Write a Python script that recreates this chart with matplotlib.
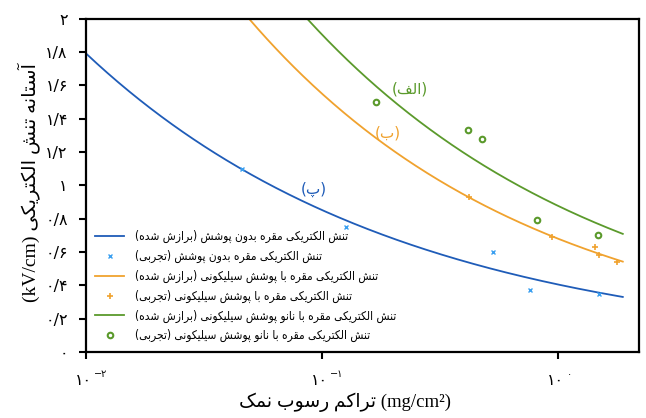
import numpy as np
import matplotlib
matplotlib.use("Agg")
import matplotlib.pyplot as plt
from matplotlib.lines import Line2D

# ---------------------------------------------------------------------------
# Minimal Persian shaping: contextual presentation forms + visual (RTL) order
# ---------------------------------------------------------------------------
FORMS = {  # isolated, final, initial, medial
    'ا': (0xFE8D, 0xFE8E, None, None), 'آ': (0xFE81, 0xFE82, None, None),
    'د': (0xFEA9, 0xFEAA, None, None), 'ذ': (0xFEAB, 0xFEAC, None, None),
    'ر': (0xFEAD, 0xFEAE, None, None), 'ز': (0xFEAF, 0xFEB0, None, None),
    'ژ': (0xFB8A, 0xFB8B, None, None), 'و': (0xFEED, 0xFEEE, None, None),
    'ب': (0xFE8F, 0xFE90, 0xFE91, 0xFE92), 'پ': (0xFB56, 0xFB57, 0xFB58, 0xFB59),
    'ت': (0xFE95, 0xFE96, 0xFE97, 0xFE98), 'ث': (0xFE99, 0xFE9A, 0xFE9B, 0xFE9C),
    'ج': (0xFE9D, 0xFE9E, 0xFE9F, 0xFEA0), 'چ': (0xFB7A, 0xFB7B, 0xFB7C, 0xFB7D),
    'ح': (0xFEA1, 0xFEA2, 0xFEA3, 0xFEA4), 'خ': (0xFEA5, 0xFEA6, 0xFEA7, 0xFEA8),
    'س': (0xFEB1, 0xFEB2, 0xFEB3, 0xFEB4), 'ش': (0xFEB5, 0xFEB6, 0xFEB7, 0xFEB8),
    'ص': (0xFEB9, 0xFEBA, 0xFEBB, 0xFEBC), 'ف': (0xFED1, 0xFED2, 0xFED3, 0xFED4),
    'ق': (0xFED5, 0xFED6, 0xFED7, 0xFED8), 'ک': (0xFB8E, 0xFB8F, 0xFB90, 0xFB91),
    'گ': (0xFB92, 0xFB93, 0xFB94, 0xFB95), 'ل': (0xFEDD, 0xFEDE, 0xFEDF, 0xFEE0),
    'م': (0xFEE1, 0xFEE2, 0xFEE3, 0xFEE4), 'ن': (0xFEE5, 0xFEE6, 0xFEE7, 0xFEE8),
    'ه': (0xFEE9, 0xFEEA, 0xFEEB, 0xFEEC), 'ی': (0xFBFC, 0xFBFD, 0xFBFE, 0xFBFF),
}
MIRROR = {'(': ')', ')': '('}


def _joins_next(ch):
    return ch in FORMS and FORMS[ch][2] is not None


def fa(text):
    out = []
    n = len(text)
    for i, ch in enumerate(text):
        if ch not in FORMS:
            out.append(ch)
            continue
        prev_j = i > 0 and _joins_next(text[i - 1])
        next_j = i + 1 < n and text[i + 1] in FORMS and _joins_next(ch)
        iso, fin, ini, med = FORMS[ch]
        if prev_j and next_j:
            cp = med
        elif prev_j:
            cp = fin
        elif next_j:
            cp = ini
        else:
            cp = iso
        out.append(chr(cp))
    # reverse into visual order, keeping runs of Latin characters intact
    runs, buf = [], ''
    for ch in out:
        if ch.isascii() and ch not in ' ()' or ch in '²':
            buf += ch
        else:
            if buf:
                runs.append(buf)
                buf = ''
            runs.append(MIRROR.get(ch, ch))
    if buf:
        runs.append(buf)
    return ''.join(reversed(runs))


FA_DIGITS = str.maketrans('0123456789.-', '۰۱۲۳۴۵۶۷۸۹/−')

# ---------------------------------------------------------------------------
# Data
# ---------------------------------------------------------------------------
# Measured flashover stress (kV/cm) vs. equivalent salt deposit (mg/cm^2)
bare_esdd = [0.046, 0.126, 0.528, 0.764, 1.49]
bare_stress = [1.10, 0.75, 0.60, 0.37, 0.35]

rtv_esdd = [0.42, 0.94, 1.44, 1.49, 1.77]
rtv_stress = [0.93, 0.69, 0.63, 0.58, 0.54]

nano_esdd = [0.169, 0.417, 0.475, 0.815, 1.48]
nano_stress = [1.50, 1.33, 1.28, 0.79, 0.70]

# Fitted power laws  E = A * ESDD^(-n)  and their ESDD spans
bare_fit = (0.405, 0.323)
rtv_fit = (0.680, 0.358)
nano_fit = (0.877, 0.337)
bare_span = (0.01, 1.88)
rtv_span = (0.045, 1.88)
nano_span = (0.08, 1.88)

y_ticks = [0, 0.2, 0.4, 0.6, 0.8, 1.0, 1.2, 1.4, 1.6, 1.8, 2.0]
x_ticks = [0.01, 0.1, 1.0]
x_tick_exp = ['-2', '-1', '0']

labels = [
    'تنش الکتریکی مقره بدون پوشش (برازش شده)',
    'تنش الکتریکی مقره بدون پوشش (تجربی)',
    'تنش الکتریکی مقره با پوشش سیلیکونی (برازش شده)',
    'تنش الکتریکی مقره با پوشش سیلیکونی (تجربی)',
    'تنش الکتریکی مقره با نانو پوشش سیلیکونی (برازش شده)',
    'تنش الکتریکی مقره با نانو پوشش سیلیکونی (تجربی)',
]
curve_tags = ['(پ)', '(ب)', '(الف)']
tag_pos = [(0.0925, 0.975), (0.19, 1.315), (0.236, 1.58)]

C_BLUE, C_BLUE_PT = '#1f5cb8', '#3a9ff0'
C_ORANGE = '#f0a22e'
C_GREEN = '#5b9a2c'

plt.rcParams['font.family'] = ['DejaVu Sans']
MIXED = ['Liberation Serif', 'DejaVu Sans']

fig = plt.figure(figsize=(6.46, 4.18), dpi=100)
ax = fig.add_axes([0.133, 0.158, 0.856, 0.797])


def fit_curve(span, coef):
    x = np.logspace(np.log10(span[0]), np.log10(span[1]), 300)
    return x, coef[0] * x ** (-coef[1])


x, y = fit_curve(bare_span, bare_fit)
ax.plot(x, y, color=C_BLUE, lw=1.3)
ax.plot(bare_esdd, bare_stress, 'x', color=C_BLUE_PT, ms=3.2, mew=1.0)
x, y = fit_curve(rtv_span, rtv_fit)
ax.plot(x, y, color=C_ORANGE, lw=1.3)
ax.plot(rtv_esdd, rtv_stress, '+', color=C_ORANGE, ms=4.5, mew=1.2)
x, y = fit_curve(nano_span, nano_fit)
ax.plot(x, y, color=C_GREEN, lw=1.3)
ax.plot(nano_esdd, nano_stress, 'o', mfc='none', mec=C_GREEN, ms=4, mew=1.5)

ax.set_xscale('log')
ax.set_xlim(0.01, 2.2)
ax.set_ylim(0, 2)
ax.set_yticks(y_ticks)
ax.set_yticklabels([format(v, 'g').translate(FA_DIGITS) for v in y_ticks],
                   fontsize=11.5)
ax.set_xticks(x_ticks)
ax.set_xticklabels(['' for _ in x_ticks])
ax.xaxis.set_minor_locator(matplotlib.ticker.NullLocator())
ax.tick_params(axis='both', direction='out', length=5, width=1.5)
ax.tick_params(axis='y', pad=8)
for s in ax.spines.values():
    s.set_linewidth(1.6)

# x tick labels: 10 with a raised exponent, in Persian digits
for xv, ex in zip(x_ticks, x_tick_exp):
    ax.annotate('۱۰', xy=(xv, 0), xycoords=('data', 'axes fraction'),
                xytext=(-2, -15), textcoords='offset points',
                ha='center', va='top', fontsize=11.5)
    ax.annotate(ex.translate(FA_DIGITS), xy=(xv, 0),
                xycoords=('data', 'axes fraction'),
                xytext=(6, -12), textcoords='offset points',
                ha='left', va='top', fontsize=7)

ax.set_xlabel(fa('تراکم رسوب نمک') + ' (mg/cm²)', fontsize=13.5, family=MIXED)
ax.xaxis.set_label_coords(0.468, -0.122)
ax.set_ylabel('(kV/cm) ' + fa('آستانه تنش الکتریکی'), fontsize=14,
              family=MIXED)
ax.yaxis.set_label_coords(-0.083, 0.51)

# curve tags
for tag, (tx, ty), c in zip(curve_tags, tag_pos, [C_BLUE, C_ORANGE, C_GREEN]):
    ax.text(tx, ty, fa(tag), color=c, fontsize=11, ha='center', va='center')

handles = [
    Line2D([], [], color=C_BLUE, lw=1.3),
    Line2D([], [], ls='none', marker='x', color=C_BLUE_PT, ms=3.2, mew=1.0),
    Line2D([], [], color=C_ORANGE, lw=1.3),
    Line2D([], [], ls='none', marker='+', color=C_ORANGE, ms=4.5, mew=1.2),
    Line2D([], [], color=C_GREEN, lw=1.3),
    Line2D([], [], ls='none', marker='o', mfc='none', mec=C_GREEN, ms=4, mew=1.5),
]
ax.legend(handles, [fa(t) for t in labels], loc='lower left', frameon=False,
          prop={'size': 8.6, 'stretch': 'condensed'}, handlelength=2.4,
          labelspacing=0.56, borderaxespad=0.4, handletextpad=0.9)

fig.savefig('out.png', dpi=100)
